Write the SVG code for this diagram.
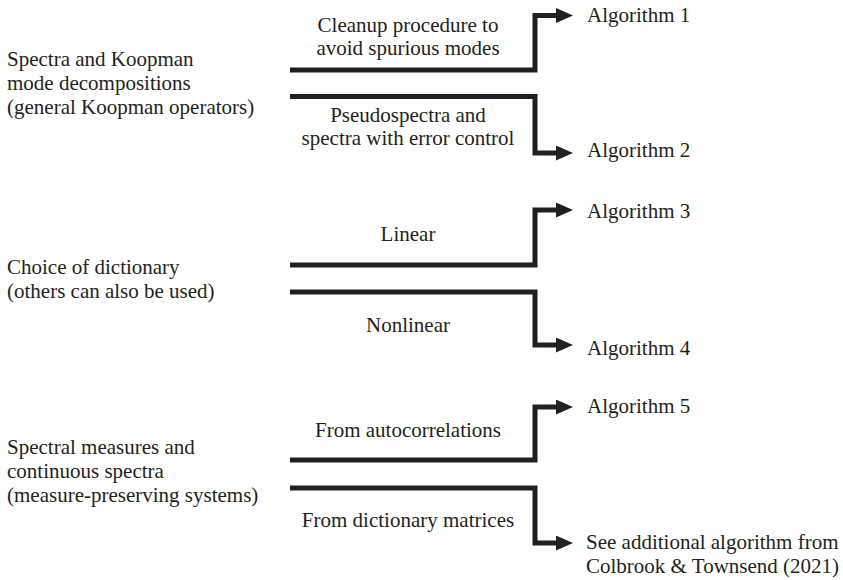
<svg xmlns="http://www.w3.org/2000/svg" width="843" height="580" viewBox="0 0 843 580">
<style>
text{font-family:'Liberation Serif',Tinos,'Times New Roman',Times,'DejaVu Serif',serif;font-size:21px;fill:#231f20}
.c{text-anchor:middle}
.ln{fill:none;stroke:#231f20;stroke-width:5;stroke-linejoin:miter;stroke-linecap:butt}
</style>
<defs>
<marker id="ah" viewBox="0 0 17 15" refX="0" refY="7.5" markerWidth="17" markerHeight="15" markerUnits="userSpaceOnUse" orient="auto">
<path d="M0,0 L17,7.5 L0,15 Z" fill="#231f20"/>
</marker>
</defs>
<rect width="843" height="580" fill="#fff"/>
<g id="connectors">
<path class="ln" marker-end="url(#ah)" d="M290,70 H535 V15.5 H556"/>
<path class="ln" marker-end="url(#ah)" d="M290,96.5 H535 V153 H556"/>
<path class="ln" marker-end="url(#ah)" d="M290,265 H535 V210 H556"/>
<path class="ln" marker-end="url(#ah)" d="M290,292 H535 V345 H556"/>
<path class="ln" marker-end="url(#ah)" d="M290,460 H535 V407 H556"/>
<path class="ln" marker-end="url(#ah)" d="M290,488 H535 V543 H556"/>
</g>
<g id="src-koopman">
<text x="7" y="66">Spectra and Koopman</text>
<text x="7" y="90">mode decompositions</text>
<text x="7" y="114">(general Koopman operators)</text>
</g>
<g id="src-dictionary">
<text x="7" y="274">Choice of dictionary</text>
<text x="7" y="298">(others can also be used)</text>
</g>
<g id="src-measures">
<text x="7" y="454">Spectral measures and</text>
<text x="7" y="478">continuous spectra</text>
<text x="7" y="502">(measure-preserving systems)</text>
</g>
<g id="lbl-cleanup">
<text class="c" x="408" y="32">Cleanup procedure to</text>
<text class="c" x="408" y="55">avoid spurious modes</text>
</g>
<g id="lbl-pseudo">
<text class="c" x="408" y="122">Pseudospectra and</text>
<text class="c" x="408" y="145">spectra with error control</text>
</g>
<g id="lbl-linear"><text class="c" x="408" y="241">Linear</text></g>
<g id="lbl-nonlinear"><text class="c" x="408" y="332">Nonlinear</text></g>
<g id="lbl-auto"><text class="c" x="408" y="437">From autocorrelations</text></g>
<g id="lbl-dictmat"><text class="c" x="408" y="527">From dictionary matrices</text></g>
<g id="alg1"><text x="587" y="22">Algorithm 1</text></g>
<g id="alg2"><text x="587" y="157">Algorithm 2</text></g>
<g id="alg3"><text x="587" y="218">Algorithm 3</text></g>
<g id="alg4"><text x="587" y="355">Algorithm 4</text></g>
<g id="alg5"><text x="587" y="413">Algorithm 5</text></g>
<g id="alg-ct">
<text x="586" y="549">See additional algorithm from</text>
<text x="586" y="573">Colbrook &amp; Townsend (2021)</text>
</g>
</svg>
